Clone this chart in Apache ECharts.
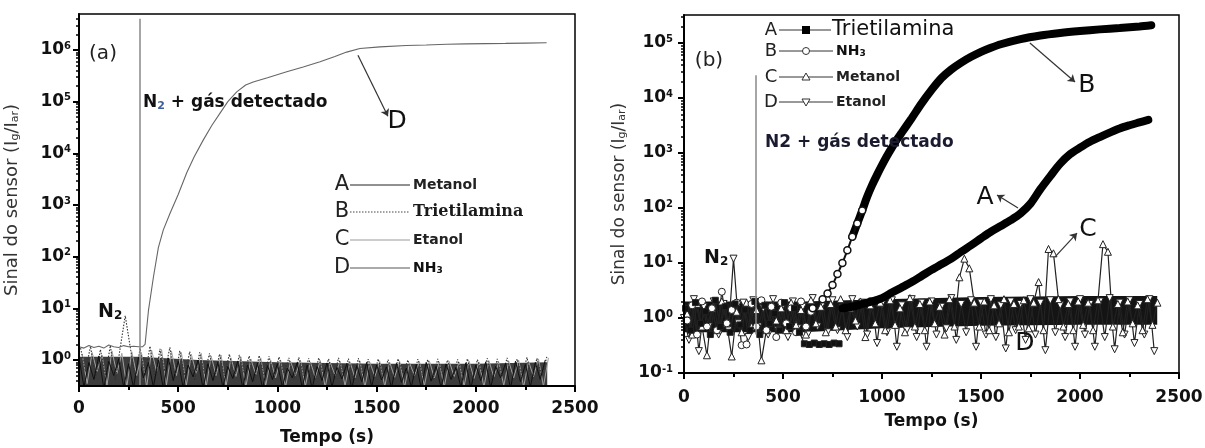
<!DOCTYPE html>
<html><head><meta charset="utf-8">
<script src="https://cdn.jsdelivr.net/npm/echarts@6/dist/echarts.min.js"></script>
<style>html,body{margin:0;padding:0;background:#fff}#c{width:1205px;height:448px}</style>
</head><body><div id="c"></div><script>
// ---------- DATA ----------
const X_TICKS = [0, 500, 1000, 1500, 2000, 2500];
const LEFT_Y_TICKS = [1, 10, 100, 1000, 10000, 100000, 1000000];
const RIGHT_Y_TICKS = [0.1, 1, 10, 100, 1000, 10000, 100000];

// sampling times of the noisy records (three interleaved recordings)
const NOISE_T = [0,25,50,75,100,125,150,175,200,225,250,275,300,325,350,375,400,425,450,475,500,525,550,575,600,625,650,675,700,725,750,775,800,825,850,875,900,925,950,975,1000,1025,1050,1075,1100,1125,1150,1175,1200,1225,1250,1275,1300,1325,1350,1375,1400,1425,1450,1475,1500,1525,1550,1575,1600,1625,1650,1675,1700,1725,1750,1775,1800,1825,1850,1875,1900,1925,1950,1975,2000,2025,2050,2075,2100,2125,2150,2175,2200,2225,2250,2275,2300,2325,2350,2375];
const NOISE_T8 = [8,33,58,83,108,133,158,183,208,233,258,283,308,333,358,383,408,433,458,483,508,533,558,583,608,633,658,683,708,733,758,783,808,833,858,883,908,933,958,983,1008,1033,1058,1083,1108,1133,1158,1183,1208,1233,1258,1283,1308,1333,1358,1383,1408,1433,1458,1483,1508,1533,1558,1583,1608,1633,1658,1683,1708,1733,1758,1783,1808,1833,1858,1883,1908,1933,1958,1983,2008,2033,2058,2083,2108,2133,2158,2183,2208,2233,2258,2283,2308,2333,2358,2383];
const NOISE_T16 = [16,41,66,91,116,141,166,191,216,241,266,291,316,341,366,391,416,441,466,491,516,541,566,591,616,641,666,691,716,741,766,791,816,841,866,891,916,941,966,991,1016,1041,1066,1091,1116,1141,1166,1191,1216,1241,1266,1291,1316,1341,1366,1391,1416,1441,1466,1491,1516,1541,1566,1591,1616,1641,1666,1691,1716,1741,1766,1791,1816,1841,1866,1891,1916,1941,1966,1991,2016,2041,2066,2091,2116,2141,2166,2191,2216,2241,2266,2291,2316,2341,2366,2391];

// panel (a): dense baseline band (envelope of the overlapping noisy records)
const BAND_A_T = [0, 300, 600, 1000, 1500, 2000, 2360];
const BAND_A_LO = [0.3, 0.3, 0.3, 0.3, 0.3, 0.3, 0.3];
const BAND_A_HI = [1.15, 1.15, 1.0, 0.9, 0.85, 0.85, 0.9];
const A_METANOL_A = [1.1,0.3,0.9,0.42,1.2,0.28,0.95,0.5,1.05,0.3,0.85,0.29,1.15,0.45,0.9,0.3,1.0,0.28,1.1,0.4,
 0.95,0.29,0.8,0.47,1.0,0.28,0.85,0.4,0.9,0.3,0.75,0.44,0.95,0.29,0.8,0.38,0.88,0.28,0.78,0.42,
 0.85,0.3,0.7,0.45,0.9,0.29,0.8,0.28,0.75,0.4,0.88,0.3,0.72,0.43,0.85,0.28,0.78,0.38,0.9,0.3,
 0.8,0.41,0.74,0.29,0.86,0.37,0.7,0.3,0.82,0.28,0.9,0.39,0.76,0.29,0.84,0.42,0.72,0.3,0.88,0.28,
 0.8,0.4,0.92,0.29,0.75,0.45,0.86,0.28,0.95,0.38,0.82,0.3,0.9,0.42,1.0];
const B_TRIETILAMINA_A = [1.7,0.6,1.85,0.45,1.6,0.5,1.9,0.4,1.75,7.2,1.8,0.45,1.7,0.5,1.85,0.4,1.65,0.6,1.75,0.45,
 1.5,0.5,1.45,0.4,1.4,0.55,1.35,0.42,1.3,0.5,1.3,0.45,1.25,0.55,1.2,0.4,1.22,0.5,1.18,0.45,
 1.15,0.55,1.1,0.42,1.12,0.5,1.08,0.4,1.1,0.52,1.05,0.43,1.1,0.5,1.06,0.4,1.08,0.52,1.04,0.44,
 1.05,0.5,1.02,0.4,1.06,0.55,1.0,0.42,1.04,0.5,1.02,0.4,1.05,0.52,1.0,0.43,1.03,0.5,1.06,0.41,
 1.02,0.55,1.08,0.4,1.05,0.5,1.1,0.42,1.04,0.5,1.12,0.4,1.08,0.5,1.15];
const C_ETANOL_A = [1.3,0.35,1.4,0.6,1.25,0.32,1.5,0.55,1.35,0.3,1.45,0.5,1.3,0.3,1.55,0.6,1.6,0.33,1.5,0.5,
 1.4,0.32,1.3,0.55,1.35,0.3,1.2,0.5,1.25,0.31,1.1,0.48,1.15,0.3,1.05,0.52,1.1,0.32,1.0,0.45,
 1.0,0.3,0.95,0.5,1.0,0.31,0.92,0.46,0.98,0.3,0.9,0.5,0.95,0.32,0.92,0.45,0.96,0.3,0.9,0.48,
 0.94,0.31,0.9,0.46,0.95,0.3,0.88,0.5,0.93,0.32,0.96,0.45,0.9,0.3,0.94,0.48,0.9,0.31,0.95,0.44,
 0.92,0.3,0.97,0.47,0.9,0.32,0.95,0.45,1.0,0.3,0.94,0.48,1.05,0.31,1.1];
const D_NH3_A_T = [0,25,50,75,100,125,150,175,200,225,250,275,300,320,333,350,375,400,425,459,500,543,580,626,670,711,750,795,840,878,950,1047,1130,1215,1290,1349,1416,1517,1650,1750,1853,1950,2050,2150,2250,2357];
const D_NH3_A_V = [1.8,1.7,1.9,1.75,1.85,1.7,1.95,1.8,1.75,1.9,1.8,1.85,1.8,1.8,2.0,9,40,150,330,690,1600,4200,8500,18000,35000,60000,100000,155000,210000,240000,290000,380000,470000,590000,750000,910000,1070000,1150000,1220000,1250000,1290000,1310000,1330000,1340000,1360000,1380000];
const GAS_T_A = 304;

// panel (b)
const BAND_B_T = [0, 600, 1000, 1500, 2000, 2390];
const BAND_B_LO = [0.55, 0.55, 0.65, 0.72, 0.75, 0.75];
const BAND_B_HI = [2.0, 2.0, 2.2, 2.4, 2.5, 2.5];
const A_TRIET_B_NOISE = [1.5,0.6,1.9,0.8,1.3,0.5,2.1,0.7,1.6,0.55,1.8,0.75,1.4,0.6,2.0,0.5,1.7,0.8,1.2,0.6,1.9,0.7,1.5,0.55,0.34,0.33,0.35,0.33,0.34,0.33,0.35,0.34];
const A_TRIET_B_CURVE_T = [800,850,900,950,1000,1050,1100,1150,1200,1250,1300,1350,1400,1450,1500,1550,1600,1650,1700,1750,1800,1850,1900,1950,2000,2050,2100,2150,2200,2250,2300,2345];
const A_TRIET_B_CURVE_V = [1.5,1.6,1.8,2.0,2.3,2.9,3.6,4.5,5.8,7.5,9.5,12,16,21,28,37,47,60,80,120,220,380,640,950,1250,1600,1950,2350,2800,3200,3600,4000];
const B_NH3_B_NOISE = [0.9,1.7,0.5,2.0,0.7,1.5,0.6,3.0,0.8,1.4,1.9,0.32,0.33,1.8,0.7,2.1,0.6,1.6,0.45,1.9,0.8,1.5,0.55,2.0,0.7,1.3];
const B_NH3_B_CURVE_T = [650,700,725,750,775,800,825,850,875,900,925,950,975,1000,1025,1050,1075,1100,1150,1200,1250,1300,1350,1400,1450,1500,1550,1600,1700,1800,1900,2000,2100,2200,2300,2360];
const B_NH3_B_CURVE_V = [1.5,2.2,2.8,4,6.3,10,17,30,52,90,160,260,400,600,880,1250,1750,2350,4300,8000,14000,23000,33000,44000,56000,69000,82000,95000,118000,137000,152000,165000,177000,188000,200000,210000];
const C_METANOL_B = [1.2,0.5,1.8,0.7,0.21,1.5,0.6,2.0,0.8,0.2,1.3,0.55,1.9,0.7,1.4,0.17,0.6,1.7,0.9,1.5,
 0.6,1.9,0.75,1.4,0.5,2.1,0.8,1.6,0.55,1.8,0.7,2.2,0.6,1.5,0.9,2.0,0.45,1.7,0.8,1.9,
 0.6,2.1,0.75,1.5,0.55,2.3,0.7,1.8,0.6,2.0,0.8,1.6,0.5,2.2,0.7,5.5,12,8,1.9,0.7,
 2.0,0.6,1.7,0.8,2.2,0.55,1.8,0.7,2.1,0.65,1.9,4.5,0.6,18,15,2.2,0.7,1.8,0.6,2.0,
 0.75,1.9,0.6,2.1,22,16,0.7,1.8,0.55,2.0,0.8,1.7,0.6,2.2,0.75,1.9];
const D_ETANOL_B = [1.0,0.4,2.2,0.25,1.6,0.7,2.0,0.5,1.8,0.6,12,0.8,1.9,0.45,2.1,0.7,1.5,0.5,2.2,0.6,
 1.7,0.45,2.0,0.65,1.6,0.5,2.3,0.7,1.8,0.55,2.1,0.6,1.5,0.45,2.2,0.7,1.9,0.5,2.0,0.35,
 1.8,0.55,2.1,0.3,1.7,0.6,2.2,0.45,1.9,0.3,2.0,0.5,1.6,0.65,2.3,0.4,1.8,0.55,2.1,0.3,
 1.9,0.5,2.2,0.45,1.7,0.28,2.0,0.6,1.8,0.4,2.2,0.5,1.9,0.26,2.1,0.55,1.7,0.45,2.0,0.3,
 2.2,0.5,1.8,0.3,2.0,0.45,2.3,0.27,1.9,0.5,2.1,0.35,1.8,0.5,2.2,0.25];
const GAS_T_B = 364;

const LEFT_LEGEND = [['A','Metanol'],['B','Trietilamina'],['C','Etanol'],['D','NH3']];
const RIGHT_LEGEND = [['A','Trietilamina'],['B','NH3'],['C','Metanol'],['D','Etanol']];

// ---------- CHART ----------
const FONT = 'DejaVu Sans';
const pair = (t, v) => v.map((y, i) => [t[i], y]);
const minorOf = ticks => { const m = []; ticks.forEach(d => { for (let k = 2; k <= 9; k++) m.push(+(d * k).toPrecision(3)); }); for (let k = 3; k <= 9; k++) m.push(+(ticks[0] / 10 * k).toPrecision(3)); return m; };

const L = {min: 0.314, max: 4.97e6};
const R = {min: 0.1, max: 3.23e5};

function xAxis(grid, gap, margin) {
  return {
    type: 'value', gridIndex: grid, min: 0, max: 2500, interval: 500, z: 10,
    name: 'Tempo (s)', nameLocation: 'middle', nameGap: gap,
    nameTextStyle: {fontFamily: FONT, fontWeight: 'bold', fontSize: 17, color: '#111'},
    axisLine: {show: true, onZero: false, lineStyle: {color: '#000', width: 2}},
    axisTick: {show: true, inside: false, length: 6, lineStyle: {color: '#000', width: 2}},
    minorTick: {show: true, splitNumber: 2, length: 4, lineStyle: {color: '#000', width: 2}},
    splitLine: {show: false}, minorSplitLine: {show: false},
    axisLabel: {fontFamily: FONT, fontWeight: 'bold', fontSize: 17, color: '#111', margin: margin,
      formatter: v => X_TICKS.includes(v) ? String(v) : ''}
  };
}
const supRich = {
  b: {fontFamily: FONT, fontWeight: 'bold', fontSize: 17, color: '#111'},
  s: {fontFamily: FONT, fontWeight: 'bold', fontSize: 10, color: '#111', verticalAlign: 'top', padding: [0, 0, 8, 0]}
};
function yMajor(grid, ext, ticks, gap, margin, fs) {
  return {
    type: 'log', logBase: 10, gridIndex: grid, min: ext.min, max: ext.max, z: 10,
    name: '{n|Sinal do sensor (I}{u|g}{n|/I}{u|ar}{n|)}', nameLocation: 'middle', nameGap: gap, nameRotate: 90,
    nameTextStyle: {rich: {
      n: {fontFamily: FONT, fontSize: fs, color: '#333'},
      u: {fontFamily: FONT, fontSize: Math.round(fs * 0.62), color: '#333', verticalAlign: 'bottom', padding: [6, 0, 0, 0]}
    }},
    axisLine: {show: true, onZero: false, lineStyle: {color: '#000', width: 2}},
    axisTick: {show: true, inside: false, length: 6, customValues: ticks, lineStyle: {color: '#000', width: 2}},
    splitLine: {show: false},
    axisLabel: {customValues: ticks, margin: margin, rich: supRich,
      formatter: v => '{b|10}{s|' + Math.round(Math.log10(v)) + '}'}
  };
}
function yMinor(grid, ext, ticks) {
  return {
    type: 'log', logBase: 10, gridIndex: grid, min: ext.min, max: ext.max, position: 'left',
    axisLine: {show: false}, splitLine: {show: false}, axisLabel: {show: false},
    axisTick: {show: true, inside: false, length: 3, customValues: minorOf(ticks).filter(v => v > ext.min && v < ext.max), lineStyle: {color: '#000', width: 1.5}}
  };
}

const bandSeries = (name, xi, yi, tArr, lo, hi, color) => ({
  name, type: 'custom', xAxisIndex: xi, yAxisIndex: yi, silent: true, clip: true, z: 1,
  data: tArr.map((t, i) => [t, lo[i], hi[i]]), encode: {x: 0, y: [1, 2]},
  renderItem: (params, api) => {
    if (params.dataIndex !== 0) return null;
    const top = tArr.map((t, i) => api.coord([t, hi[i]]));
    const bot = tArr.map((t, i) => api.coord([t, lo[i]])).reverse();
    return {type: 'polygon', shape: {points: top.concat(bot)}, style: {fill: color}};
  }
});
const noiseLine = (name, data, color, width, type) => ({
  name, type: 'line', xAxisIndex: 0, yAxisIndex: 0, data, symbol: 'none', silent: true,
  lineStyle: {color, width, type: type || 'solid'}, z: 2
});
const markerLine = (name, data, symbol, rotate, fill, size) => ({
  name, type: 'line', xAxisIndex: 1, yAxisIndex: 2, data, symbol, symbolSize: size || 7, symbolRotate: rotate || 0,
  showAllSymbol: true, silent: true,
  itemStyle: {color: fill || '#fff', borderColor: '#222', borderWidth: 1},
  lineStyle: {color: '#222', width: 1.2}, z: 2
});
const letterMarks = (items, size) => ({
  symbol: 'rect', symbolSize: 1, silent: true, itemStyle: {color: 'rgba(0,0,0,0)'},
  label: {show: true, position: 'inside', fontFamily: FONT, fontSize: size, color: '#111', formatter: p => p.name},
  data: items.map(it => ({name: it[0], coord: it[1]}))
});
const arrow = (from, to) => [{coord: from, symbol: 'none', lineStyle: {color: '#333', width: 1.2, type: 'solid'}}, {coord: to, symbol: 'arrow', symbolSize: 7}];

const bCurve = pair(B_NH3_B_CURVE_T, B_NH3_B_CURVE_V);

const series = [
  bandSeries('faixa (a)', 0, 0, BAND_A_T, BAND_A_LO, BAND_A_HI, '#3c3c3c'),
  noiseLine('Etanol (a)', pair(NOISE_T16, C_ETANOL_A), '#a0a0a0', 1),
  noiseLine('Trietilamina (a)', pair(NOISE_T8, B_TRIETILAMINA_A), '#333', 1.1, [1.5, 1.5]),
  noiseLine('Metanol (a)', pair(NOISE_T, A_METANOL_A), '#111', 1),
  Object.assign(noiseLine('NH3 (a)', pair(D_NH3_A_T, D_NH3_A_V), '#666', 1.1), {
    z: 3,
    markLine: {silent: true, animation: false, label: {show: false}, symbol: ['none', 'none'], data: [
      [{coord: [GAS_T_A, 4.0e6], lineStyle: {color: '#888', width: 1.5, type: 'solid'}}, {coord: [GAS_T_A, L.min]}],
      arrow([1406, 7.9e5], [1557, 5.2e4])
    ]},
    markPoint: letterMarks([['D', [1603, 4.2e4]]], 25)
  }),
  bandSeries('faixa (b)', 1, 2, BAND_B_T, BAND_B_LO, BAND_B_HI, '#141414'),
  markerLine('Etanol (b)', pair(NOISE_T, D_ETANOL_B), 'triangle', 180),
  markerLine('Metanol (b)', pair(NOISE_T16, C_METANOL_B), 'triangle', 0),
  markerLine('NH3 (b) ruído', pair(NOISE_T16, B_NH3_B_NOISE), 'circle', 0),
  markerLine('Trietilamina (b) ruído', pair(NOISE_T8, A_TRIET_B_NOISE), 'rect', 0, '#111', 6),
  {name: 'Trietilamina (b)', type: 'line', xAxisIndex: 1, yAxisIndex: 2, smooth: 0.3, symbol: 'none', silent: true,
   data: pair(A_TRIET_B_CURVE_T, A_TRIET_B_CURVE_V), lineStyle: {color: '#000', width: 8, cap: 'round'}, z: 4},
  {name: 'NH3 (b) início', type: 'line', xAxisIndex: 1, yAxisIndex: 2, smooth: 0.3, silent: true,
   data: bCurve.filter(p => p[0] <= 900), symbol: 'circle', symbolSize: 7, showAllSymbol: true,
   itemStyle: {color: '#fff', borderColor: '#111', borderWidth: 1.5}, lineStyle: {color: '#111', width: 2}, z: 5},
  {name: 'NH3 (b)', type: 'line', xAxisIndex: 1, yAxisIndex: 2, smooth: 0.3, symbol: 'none', silent: true,
   data: bCurve.filter(p => p[0] >= 850), lineStyle: {color: '#000', width: 8, cap: 'round'}, z: 4,
   markLine: {silent: true, animation: false, label: {show: false}, symbol: ['none', 'none'], data: [
     [{coord: [GAS_T_B, 2.6e4], lineStyle: {color: '#888', width: 1.5, type: 'solid'}}, {coord: [GAS_T_B, 0.5]}],
     arrow([1747, 1.0e5], [1975, 1.95e4]),
     arrow([1687, 100], [1581, 172]),
     arrow([1874, 12.9], [1985, 35])
   ]},
   markPoint: letterMarks([['B', [2035, 1.7e4]], ['A', [1520, 158]], ['C', [2040, 40]], ['D', [1722, 0.35]]], 25)
  }
];

// ---------- GRAPHIC (labels, legends) ----------
const T = (x, y, text, font, fill, align, rich) => ({type: 'text', x, y, silent: true, z: 10,
  style: {text, font, fill: fill || '#111', align: align || 'left', verticalAlign: 'middle', rich}});
const subRich = (size, col) => ({
  b: {fontFamily: FONT, fontWeight: 'bold', fontSize: size, fill: '#111'},
  s: {fontFamily: FONT, fontWeight: 'bold', fontSize: Math.round(size * 0.62), fill: col || '#111', verticalAlign: 'bottom', padding: [Math.round(size * 0.4), 0, 0, 0]}
});
const graphic = [];
graphic.push(T(103, 54, '(a)', '20px ' + FONT, '#222', 'center'));
graphic.push(T(143, 103, '{b|N}{s|2}{b| + gás detectado}', '', '#111', 'left', subRich(17, '#3d5c9c')));
graphic.push(T(98, 312, '{b|N}{s|2}', '', '#111', 'left', subRich(19)));
graphic.push(T(709, 61, '(b)', '20px ' + FONT, '#222', 'center'));
graphic.push(T(765, 143, 'N2 + gás detectado', 'bold 17px ' + FONT, '#1b1b30'));
graphic.push(T(704, 258, '{b|N}{s|2}', '', '#111', 'left', subRich(19)));

// left legend
const LROWS = [185, 212, 240, 268];
const LSTY = [{stroke: '#222'}, {stroke: '#444', lineDash: [1.5, 1.5]}, {stroke: '#999'}, {stroke: '#555'}];
LEFT_LEGEND.forEach((it, i) => {
  const y = LROWS[i];
  graphic.push(T(342, y, it[0], '21px ' + FONT, '#222', 'center'));
  graphic.push({type: 'line', silent: true, shape: {x1: 350, y1: y, x2: 410, y2: y}, style: Object.assign({lineWidth: 1}, LSTY[i])});
  if (it[1] === 'Trietilamina') graphic.push(T(413, y, it[1], 'bold 16px "DejaVu Serif"', '#1a1a1a'));
  else if (it[1] === 'NH3') graphic.push(T(413, y, '{b|NH}{s|3}', '', '#111', 'left', subRich(14)));
  else graphic.push(T(413, y, it[1], 'bold 14px ' + FONT, '#222'));
});
// right legend
const RROWS = [30, 51, 77, 102];
RIGHT_LEGEND.forEach((it, i) => {
  const y = RROWS[i];
  graphic.push(T(771, y, it[0], '18px ' + FONT, '#222', 'center'));
  graphic.push({type: 'line', silent: true, shape: {x1: 779, y1: y, x2: i === 0 ? 831 : 833, y2: y}, style: {stroke: '#333', lineWidth: 1}});
  const mx = 806;
  if (i === 0) graphic.push({type: 'rect', silent: true, shape: {x: mx - 4, y: y - 4, width: 8, height: 8}, style: {fill: '#000'}});
  if (i === 1) graphic.push({type: 'circle', silent: true, shape: {cx: mx, cy: y, r: 3.5}, style: {fill: '#fff', stroke: '#333', lineWidth: 1}});
  if (i === 2) graphic.push({type: 'polygon', silent: true, shape: {points: [[mx - 4, y + 3], [mx + 4, y + 3], [mx, y - 4]]}, style: {fill: '#fff', stroke: '#333', lineWidth: 1}});
  if (i === 3) graphic.push({type: 'polygon', silent: true, shape: {points: [[mx - 4, y - 3], [mx + 4, y - 3], [mx, y + 4]]}, style: {fill: '#fff', stroke: '#333', lineWidth: 1}});
  if (i === 0) graphic.push(T(832, y, it[1], '21px ' + FONT, '#111'));
  else if (it[1] === 'NH3') graphic.push(T(836, y, '{b|NH}{s|3}', '', '#111', 'left', subRich(14)));
  else graphic.push(T(836, y, it[1], 'bold 14px ' + FONT, '#222'));
});

const option = {
  animation: false,
  backgroundColor: '#fff',
  grid: [
    {left: 79, top: 14, width: 496, height: 372, show: true, borderColor: '#000', borderWidth: 1.5, backgroundColor: '#fff', containLabel: false, outerBoundsMode: 'none'},
    {left: 684, top: 15, width: 495, height: 358, show: true, borderColor: '#000', borderWidth: 1.5, backgroundColor: '#fff', containLabel: false, outerBoundsMode: 'none'}
  ],
  xAxis: [xAxis(0, 43, 14), xAxis(1, 40, 16)],
  yAxis: [yMajor(0, L, LEFT_Y_TICKS, 58, 8, 18), yMinor(0, L, LEFT_Y_TICKS), yMajor(1, R, RIGHT_Y_TICKS, 56, 11, 17), yMinor(1, R, RIGHT_Y_TICKS)],
  series,
  graphic
};
const chart = echarts.init(document.getElementById('c'), null, {renderer: 'canvas'});
chart.setOption(option);
</script></body></html>
